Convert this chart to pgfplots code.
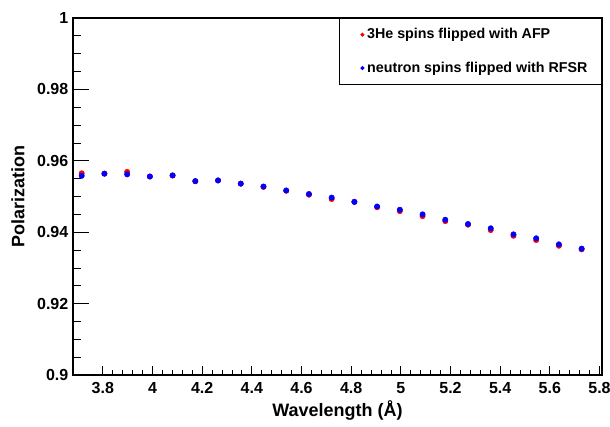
\documentclass[border=0pt]{standalone}
\usepackage{fontspec}
\setmainfont{Liberation Sans}
\usepackage{pgfplots}
\pgfplotsset{compat=1.18}
\begin{document}
\begin{tikzpicture}
\useasboundingbox (-54.75pt,-38.25pt) rectangle (402.75pt,281.25pt);
\begin{axis}[
  at={(0pt,0pt)}, anchor=south west,
  scale only axis, width=396.75pt, height=267.75pt,
  xmin=3.68, xmax=5.81, ymin=0.9, ymax=1.0,
  xtick={3.8,4,4.2,4.4,4.6,4.8,5,5.2,5.4,5.6,5.8},
  ytick={0.9,0.92,0.94,0.96,0.98,1},
  minor x tick num=4, minor y tick num=3,
  tick align=inside, xtick pos=bottom, ytick pos=left,
  xtick style={black, line width=0.6pt, /pgfplots/major tick length=7pt, /pgfplots/minor tick length=3.5pt},
  ytick style={black, line width=0.6pt, /pgfplots/major tick length=12pt, /pgfplots/minor tick length=6pt},
  axis line style={line width=0.8pt},
  /pgf/number format/assume math mode=true,
  ticklabel style={font=\fontsize{12}{14}\selectfont\bfseries},
  xticklabel style={yshift=-2pt},
  xlabel={Wavelength (Å)}, ylabel={Polarization},
  label style={font=\fontsize{13.5}{16}\selectfont\bfseries},
  xlabel style={at={(axis description cs:0.5,-0.1)}, anchor=center},
  ylabel style={at={(axis description cs:-0.104,0.5)}, anchor=center},
  legend style={at={(rel axis cs:1,1)}, anchor=north east, draw=black, line width=0.8pt,
    font=\fontsize{10.7}{13}\selectfont\bfseries, row sep=11.75pt, column sep=0pt,
    inner xsep=8.5pt, inner ysep=5.5pt},
  legend cell align=left,
  legend image code/.code={\path[draw=none,fill=none] (-8.5pt,0pt) -- (1.1pt,0pt); \fill[#1] (0pt,0pt) circle (1.1pt);},
]
\addplot[only marks, mark=*, mark size=2pt, color=red, mark options={draw=red, fill=red}] coordinates {
(3.715,0.9565) (3.8065,0.9564) (3.898,0.9569) (3.9895,0.9556) (4.081,0.9559)
(4.1725,0.9543) (4.264,0.9545) (4.3555,0.9536) (4.447,0.9527) (4.5385,0.9516)
(4.63,0.9505) (4.7215,0.9493) (4.813,0.9485) (4.9045,0.9470) (4.996,0.9459)
(5.0875,0.9445) (5.179,0.9431) (5.2705,0.9421) (5.362,0.9406) (5.4535,0.9390)
(5.545,0.9378) (5.6365,0.9362) (5.728,0.9352)
};
\addlegendentry{3He spins flipped with AFP}
\addplot[only marks, mark=*, mark size=2pt, color=blue, mark options={draw=blue, fill=blue}] coordinates {
(3.715,0.9558) (3.8065,0.9564) (3.898,0.9562) (3.9895,0.9556) (4.081,0.9559)
(4.1725,0.9543) (4.264,0.9545) (4.3555,0.9536) (4.447,0.9528) (4.5385,0.9517)
(4.63,0.9507) (4.7215,0.9497) (4.813,0.9485) (4.9045,0.9472) (4.996,0.9463)
(5.0875,0.9450) (5.179,0.9435) (5.2705,0.9423) (5.362,0.9411) (5.4535,0.9394)
(5.545,0.9383) (5.6365,0.9366) (5.728,0.9354)
};
\addlegendentry{neutron spins flipped with RFSR}
\end{axis}
\end{tikzpicture}
\end{document}
